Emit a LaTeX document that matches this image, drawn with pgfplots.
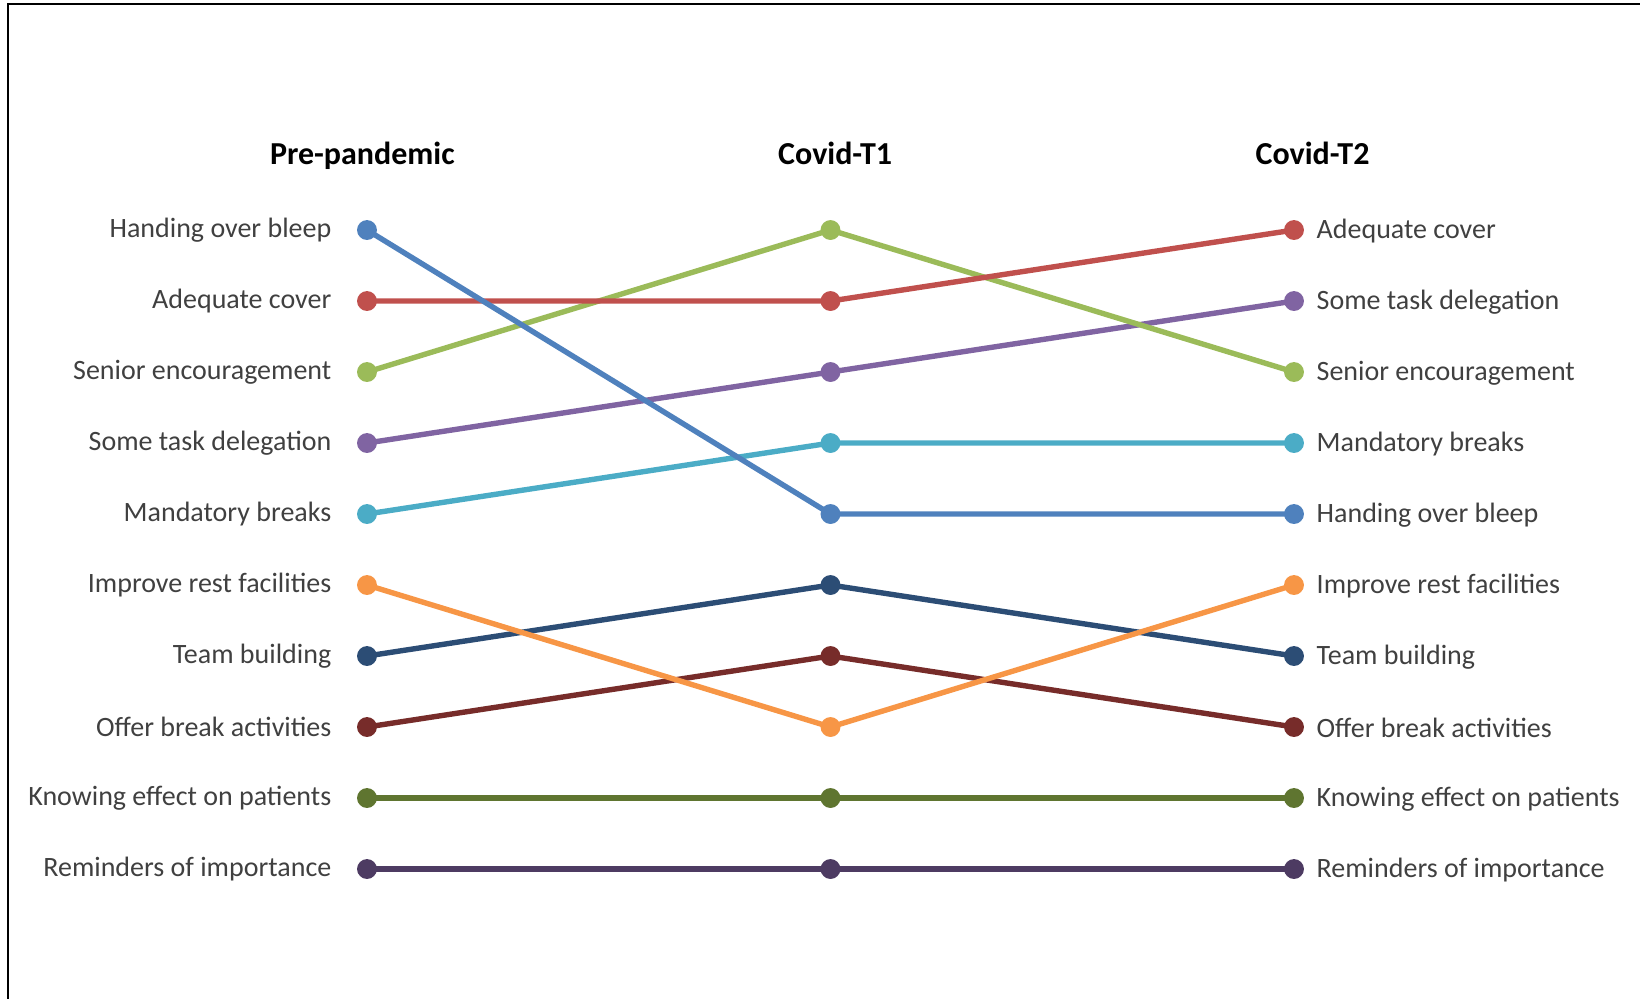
\documentclass[border=0pt]{standalone}
\usepackage{pgfplots}
\pgfplotsset{compat=1.18}
\usepackage{fontspec}
\setmainfont{Carlito}
\definecolor{cA}{HTML}{4F81BD}
\definecolor{cB}{HTML}{C0504D}
\definecolor{cC}{HTML}{9BBB59}
\definecolor{cD}{HTML}{8064A2}
\definecolor{cE}{HTML}{4BACC6}
\definecolor{cF}{HTML}{F79646}
\definecolor{cG}{HTML}{2C4D75}
\definecolor{cH}{HTML}{772C2A}
\definecolor{cI}{HTML}{5F7530}
\definecolor{cJ}{HTML}{4D3B62}
\definecolor{lbl}{HTML}{404040}
\tikzset{
  lefty/.style={pos=0, anchor=east, xshift=-16.5pt, inner sep=0pt, text=lbl, font=\fontsize{14}{16}\selectfont},
  righty/.style={pos=1, anchor=west, xshift=10pt, yshift=-0.5pt, inner sep=0pt, text=lbl, font=\fontsize{14}{16}\selectfont},
  hdr/.style={font=\bfseries\fontsize{16}{18}\selectfont, text height=1.6ex, text depth=0.5ex},
}
\begin{document}
\begin{tikzpicture}
\useasboundingbox (0,0) rectangle (820pt,499pt);
\draw[line width=1pt,black] (4pt,-20pt) -- (4pt,497pt) -- (840pt,497pt);
\begin{axis}[
  at={(183.5pt,64.5pt)}, anchor=south west,
  scale only axis, width=463.5pt, height=319.5pt,
  xmin=0, xmax=2, ymin=1, ymax=10, y dir=reverse,
  hide axis, clip=false,
  every axis plot/.append style={line width=2.7pt, mark=*, mark size=3.6pt, mark options={solid}},
]
\addplot[cJ] coordinates {(0,10) (1,10) (2,10)} node[lefty]{Reminders of importance} node[righty]{Reminders of importance};
\addplot[cI] coordinates {(0,9) (1,9) (2,9)} node[lefty]{Knowing effect on patients} node[righty]{Knowing effect on patients};
\addplot[cH] coordinates {(0,8) (1,7) (2,8)} node[lefty]{Offer break activities} node[righty]{Offer break activities};
\addplot[cG] coordinates {(0,7) (1,6) (2,7)} node[lefty]{Team building} node[righty]{Team building};
\addplot[cF] coordinates {(0,6) (1,8) (2,6)} node[lefty]{Improve rest facilities} node[righty]{Improve rest facilities};
\addplot[cE] coordinates {(0,5) (1,4) (2,4)} node[lefty]{Mandatory breaks} node[righty]{Mandatory breaks};
\addplot[cD] coordinates {(0,4) (1,3) (2,2)} node[lefty]{Some task delegation} node[righty]{Some task delegation};
\addplot[cC] coordinates {(0,3) (1,1) (2,3)} node[lefty]{Senior encouragement} node[righty]{Senior encouragement};
\addplot[cB] coordinates {(0,2) (1,2) (2,1)} node[lefty]{Adequate cover} node[righty]{Adequate cover};
\addplot[cA] coordinates {(0,1) (1,5) (2,5)} node[lefty]{Handing over bleep} node[righty]{Handing over bleep};
\node[hdr] at (axis cs:-0.01,0.01) {Pre-pandemic};
\node[hdr] at (axis cs:1.01,0.01) {Covid-T1};
\node[hdr] at (axis cs:2.04,0.01) {Covid-T2};
\end{axis}
\end{tikzpicture}
\end{document}
